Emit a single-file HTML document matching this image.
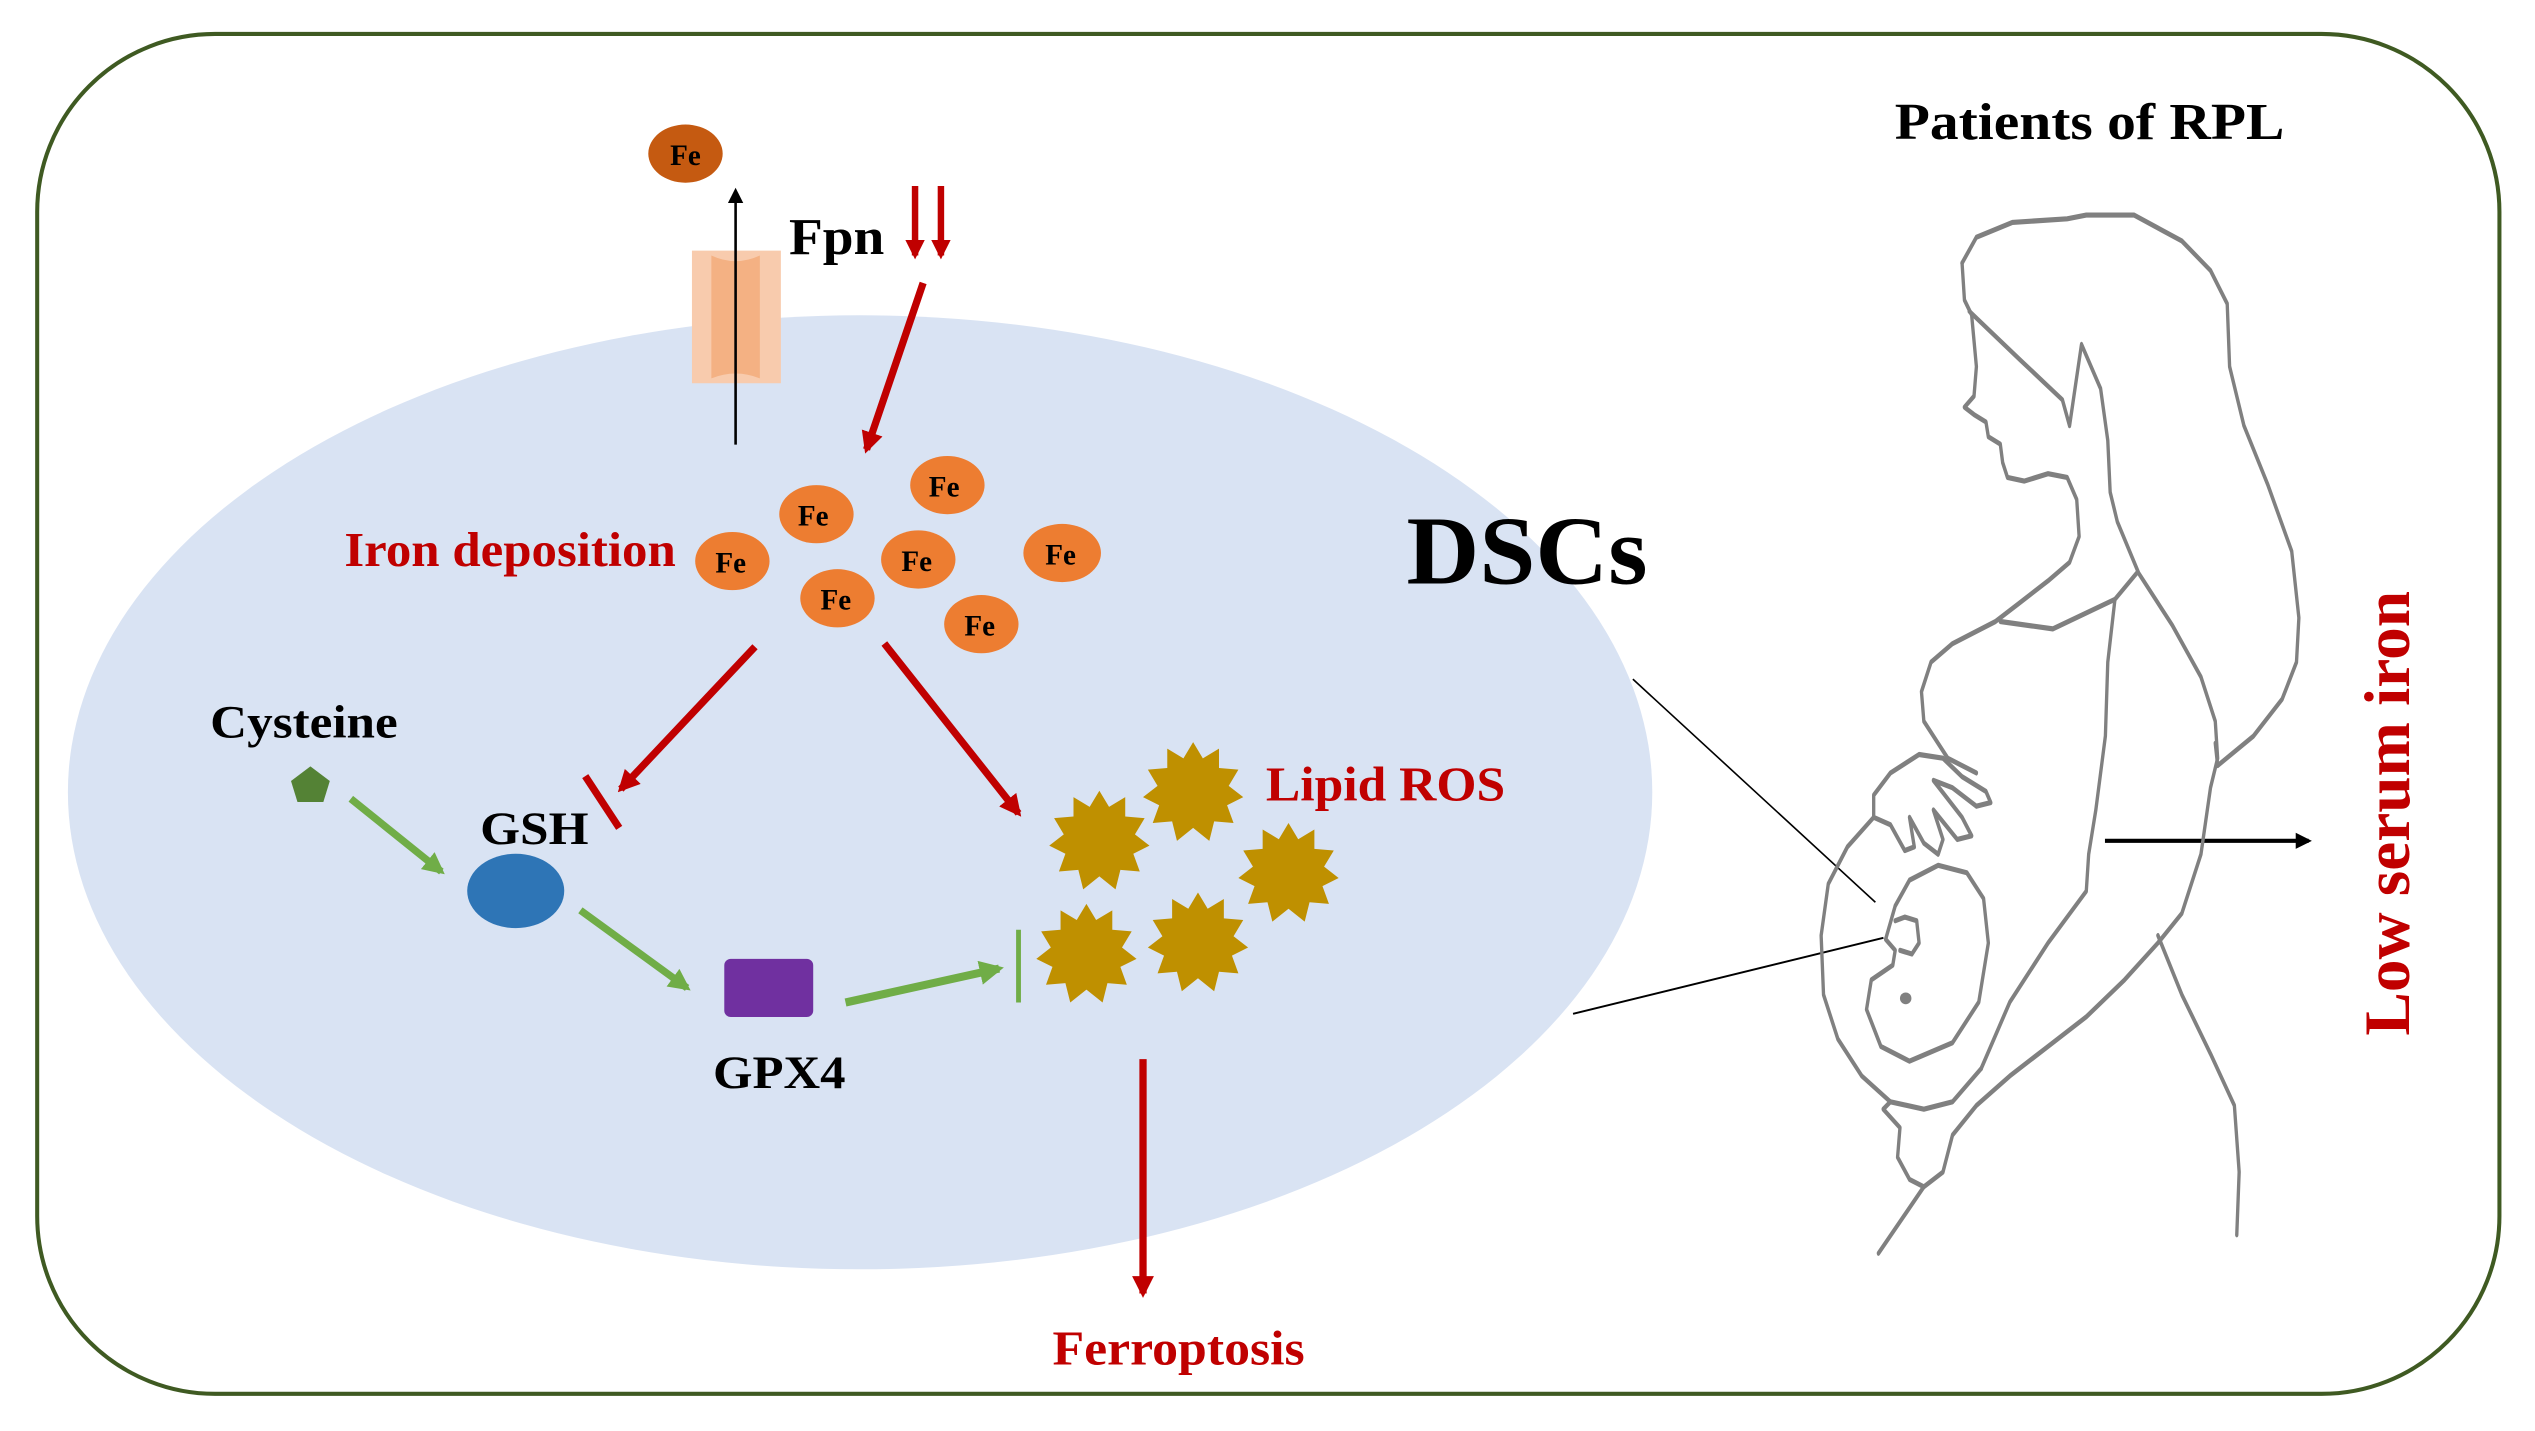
<!DOCTYPE html>
<html><head><meta charset="utf-8"><style>
html,body{margin:0;padding:0;background:#fff;}
svg{display:block;}
text{font-family:"Liberation Serif",serif;font-weight:bold;}
</style></head><body>
<svg width="2535" height="1431" viewBox="0 0 1568 885" preserveAspectRatio="none" xmlns="http://www.w3.org/2000/svg">
<defs>
<marker id="ar" viewBox="0 0 10 10" refX="8" refY="5" markerWidth="3" markerHeight="3" orient="auto"><path d="M0,0L10,5L0,10z" fill="#c00000"/></marker>
<marker id="ag" viewBox="0 0 10 10" refX="8" refY="5" markerWidth="3" markerHeight="3" orient="auto"><path d="M0,0L10,5L0,10z" fill="#70ad47"/></marker>
<marker id="ab" viewBox="0 0 10 10" refX="8" refY="5" markerWidth="6" markerHeight="6" orient="auto"><path d="M0,0L10,5L0,10z" fill="#000"/></marker>
<marker id="ab2" viewBox="0 0 10 10" refX="8" refY="5" markerWidth="7" markerHeight="4" orient="auto"><path d="M0,0L10,5L0,10z" fill="#000"/></marker>
<polygon id="star" fill="#bf9000" points="0,-31 6,-21 16,-27 16,-15 28,-14 22,-4 31,3 21,8 25,19 13,18 10,30 0,22 -10,30 -13,18 -25,19 -21,8 -31,3 -22,-4 -28,-14 -16,-15 -16,-27 -6,-21"/>
</defs>
<rect x="23" y="21" width="1523" height="841" rx="110" ry="110" fill="none" stroke="#3f5a22" stroke-width="2.5"/>
<ellipse cx="532" cy="490" rx="490" ry="295" fill="#d9e3f3"/>
<path d="M428,155 L483,155 L483,237 L428,237 Z" fill="#f8cbad"/>
<path d="M440,158 Q455,165 470,158 L470,234 Q455,228 440,234 Z" fill="#f4b183"/>
<line x1="455" y1="275" x2="455" y2="118" stroke="#000" stroke-width="1.6" marker-end="url(#ab)"/>
<ellipse cx="424" cy="95" rx="23" ry="18" fill="#c55a11"/>
<text x="424" y="102" font-size="18" text-anchor="middle">Fe</text>
<text x="488" y="157" font-size="32" textLength="59" lengthAdjust="spacingAndGlyphs">Fpn</text>
<line x1="566" y1="115" x2="566" y2="158" stroke="#c00000" stroke-width="4" marker-end="url(#ar)"/>
<line x1="582" y1="115" x2="582" y2="158" stroke="#c00000" stroke-width="4" marker-end="url(#ar)"/>
<line x1="571" y1="175" x2="536" y2="278" stroke="#c00000" stroke-width="4.5" marker-end="url(#ar)"/>
<g fill="#ed7d31">
<ellipse cx="505" cy="318" rx="23" ry="18"/><ellipse cx="586" cy="300" rx="23" ry="18"/>
<ellipse cx="453" cy="347" rx="23" ry="18"/><ellipse cx="568" cy="346" rx="23" ry="18"/>
<ellipse cx="657" cy="342" rx="24" ry="18"/><ellipse cx="518" cy="370" rx="23" ry="18"/>
<ellipse cx="607" cy="386" rx="23" ry="18"/></g>
<g font-size="18" text-anchor="middle">
<text x="503" y="325">Fe</text><text x="584" y="307">Fe</text><text x="452" y="354">Fe</text>
<text x="567" y="353">Fe</text><text x="656" y="349">Fe</text><text x="517" y="377">Fe</text><text x="606" y="393">Fe</text></g>
<text x="213" y="350" font-size="30" fill="#c00000" textLength="205" lengthAdjust="spacingAndGlyphs">Iron deposition</text>
<text x="870" y="361" font-size="60" textLength="149" lengthAdjust="spacingAndGlyphs">DSCs</text>
<line x1="467" y1="400" x2="384" y2="488" stroke="#c00000" stroke-width="4.5" marker-end="url(#ar)"/>
<line x1="362" y1="480" x2="383" y2="512" stroke="#c00000" stroke-width="4.5"/>
<line x1="547" y1="398" x2="630" y2="503" stroke="#c00000" stroke-width="4.5" marker-end="url(#ar)"/>
<text x="130" y="456" font-size="29" textLength="116" lengthAdjust="spacingAndGlyphs">Cysteine</text>
<polygon points="192,474 204,483 200,496 184,496 180,483" fill="#548235"/>
<line x1="217" y1="494" x2="273" y2="539" stroke="#70ad47" stroke-width="4.5" marker-end="url(#ag)"/>
<text x="297" y="522" font-size="29" textLength="67" lengthAdjust="spacingAndGlyphs">GSH</text>
<ellipse cx="319" cy="551" rx="30" ry="23" fill="#2e75b6"/>
<line x1="359" y1="563" x2="425" y2="611" stroke="#70ad47" stroke-width="4.5" marker-end="url(#ag)"/>
<rect x="448" y="593" width="55" height="36" rx="4" fill="#7030a0"/>
<text x="441" y="673" font-size="29" textLength="82" lengthAdjust="spacingAndGlyphs">GPX4</text>
<line x1="523" y1="620" x2="618" y2="599" stroke="#70ad47" stroke-width="5" marker-end="url(#ag)"/>
<line x1="630" y1="575" x2="630" y2="620" stroke="#70ad47" stroke-width="3"/>
<use href="#star" x="680" y="520"/><use href="#star" x="738" y="490"/><use href="#star" x="797" y="540"/>
<use href="#star" x="672" y="590"/><use href="#star" x="741" y="583"/>
<text x="783" y="495" font-size="30" fill="#c00000" textLength="148" lengthAdjust="spacingAndGlyphs">Lipid ROS</text>
<line x1="707" y1="655" x2="707" y2="800" stroke="#c00000" stroke-width="4.5" marker-end="url(#ar)"/>
<text x="651" y="844" font-size="30" fill="#c00000" textLength="156" lengthAdjust="spacingAndGlyphs">Ferroptosis</text>
<text x="1172" y="86" font-size="32" textLength="241" lengthAdjust="spacingAndGlyphs">Patients of RPL</text>
<line x1="1010" y1="420" x2="1160" y2="558" stroke="#000" stroke-width="1"/>
<line x1="973" y1="627" x2="1165" y2="580" stroke="#000" stroke-width="1.2"/>
<line x1="1302" y1="520" x2="1428" y2="520" stroke="#000" stroke-width="2.5" marker-end="url(#ab2)"/>
<text transform="translate(1490,503) rotate(-90)" font-size="40" fill="#c00000" text-anchor="middle" textLength="275" lengthAdjust="spacingAndGlyphs">Low serum iron</text>
<g transform="translate(1083.6,89.6) scale(0.2955,0.457)" fill="none" stroke="#808080" stroke-width="7" stroke-linejoin="round" stroke-linecap="round">
<path d="M440,160 L470,125 L545,105 L660,100 L700,95 L800,95 L900,130 L960,170 L995,215 L1000,300 L1030,380 L1080,460 L1130,550 L1145,640 L1140,700 L1110,750 L1050,800 L975,840 L970,810"/>
<path d="M440,160 L445,210 L460,230 L465,265 L470,300 L465,340 L445,355 L465,365 L490,375 L495,395 L520,405 L525,430 L535,450 L570,455 L620,445 L660,450 L680,480 L685,530 L665,565 L620,590 L560,620 L510,645 L420,675 L375,700 L355,740 L360,780 L390,810 L410,830 L470,850"/>
<path d="M455,225 L560,290 L650,345 L665,380 L690,270 L730,330 L745,400 L750,470 L765,510 L810,580 L880,650 L940,720 L970,780 L975,830 L960,870 L940,960 L900,1040 L850,1080 L780,1130 L700,1180 L620,1220 L540,1260 L470,1300 L420,1340 L400,1390 L360,1410"/>
<path d="M850,1070 L900,1150 L960,1230 L1010,1300 L1020,1390 L1015,1475"/>
<path d="M360,1410 L265,1500"/>
<path d="M805,580 L760,615 L745,700 L740,800 L720,900 L705,960 L700,1010 L620,1080 L540,1160 L480,1250"/>
<path d="M760,615 L630,655 L520,645"/>
<path d="M255,910 L200,950 L160,1000 L145,1070 L150,1150 L180,1210 L230,1260 L290,1295 L360,1305 L420,1295 L480,1250"/>
<path d="M290,1295 L275,1305 L310,1330 L305,1370 L330,1400 L360,1410"/>
<path d="M255,910 L255,880 L290,850 L350,825 L400,830 L440,855 L490,875 L500,890 L470,895 L420,870 L380,860 L440,910 L460,935 L430,940 L380,900 L400,940 L390,960 L360,945 L330,910 L340,950 L320,955 L290,920 L255,910"/>
<path d="M300,1030 L330,995 L390,975 L450,985 L485,1020 L495,1080 L475,1160 L420,1215 L330,1240 L270,1220 L240,1170 L250,1130 L295,1110 L300,1090 L280,1075 L300,1030"/>
<path d="M300,1050 L320,1045 L345,1050 L350,1080 L335,1095 L310,1090"/>
<ellipse cx="322" cy="1155" rx="12" ry="8" fill="#808080" stroke="none"/>
</g>
</svg>
</body></html>
